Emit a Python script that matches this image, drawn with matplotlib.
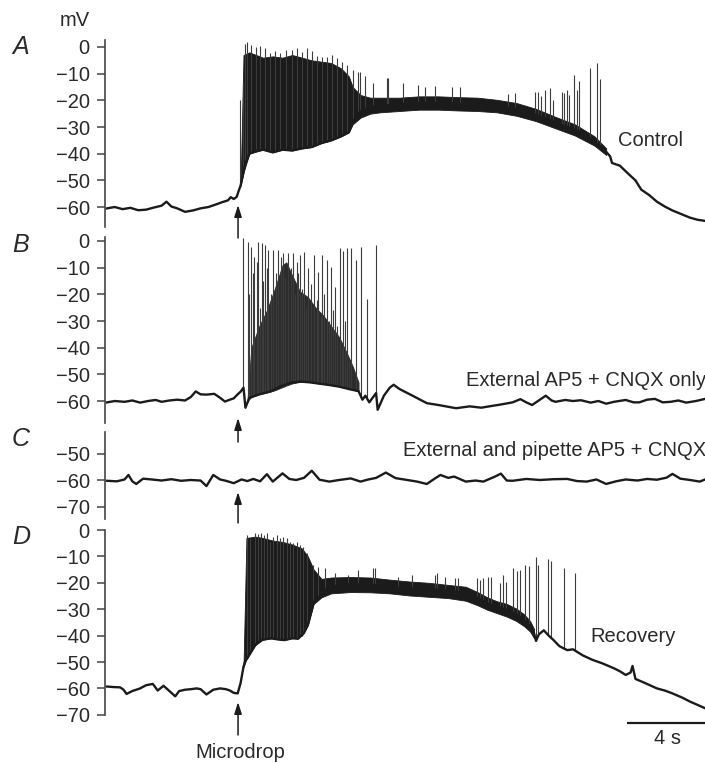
import numpy as np
import matplotlib.pyplot as plt

plt.rcParams['font.family'] = ['Liberation Sans', 'DejaVu Sans']

# ---- data (time in s, membrane potential in mV) ----
t_drop = 6.72

# A  Control
a_t = [0, 0.4, 0.8, 1.2, 1.6, 2.0, 2.4, 2.8, 3.05, 3.3, 3.6, 4.0, 4.4, 4.8, 5.2, 5.6, 5.9, 6.2, 6.35, 6.5,
       6.65, 6.75, 6.85, 7.0, 7.1, 7.3, 7.6, 8.0, 8.5, 9.0, 9.5, 10.0, 10.5, 11.0, 11.5, 12.0, 12.4, 12.6,
       13.0, 13.5, 14.0, 15.0, 16.0, 17.0, 18.0, 19.0, 19.6, 20.2, 20.7, 21.2, 21.7, 22.2, 22.7, 23.2,
       23.8, 24.3, 24.8, 25.3, 25.6, 25.8, 25.9, 26.3, 26.8, 27.1, 27.4, 27.8, 28.2, 28.6, 29.0, 29.5,
       29.9, 30.3, 30.67]
a_v = [-60.5, -60.0, -60.8, -60.3, -61.2, -61.0, -60.2, -59.5, -58.0, -59.8, -60.5, -61.8, -61.3, -60.5,
       -60.0, -59.0, -58.2, -57.5, -56.3, -57.0, -56.2, -54.0, -52.0, -47.0, -43.5, -40.0, -39.0, -38.5,
       -39.5, -38.5, -38.8, -38.0, -37.5, -36.0, -35.0, -33.5, -32.0, -28.0, -24.0, -22.5, -22.0, -21.5,
       -21.0, -21.0, -21.3, -21.5, -21.7, -22.3, -22.8, -23.6, -24.6, -26.0, -27.4, -29.0, -30.5, -32.0,
       -34.5, -37.3, -39.3, -41.0, -43.5, -44.5, -48.0, -50.0, -53.5, -55.5, -58.0, -59.8, -61.3, -62.8,
       -64.0, -64.8, -65.2]
a_band_t = [6.85, 7.0, 7.3, 8.0, 8.5, 9.0, 9.5, 10.0, 10.5, 11.0, 11.5, 12.0, 12.4, 12.6, 13.0, 13.5,
            14.0, 15.0, 16.0, 17.0, 18.0, 19.0, 20.0, 21.0, 22.0, 23.0, 24.0, 25.0, 25.6]
a_band_lo = [-52, -47, -40, -38.5, -39.5, -38.5, -38.8, -38, -37.5, -36, -35, -33.5, -32, -29, -26.5, -25,
             -24.5, -24, -23.5, -23.5, -23.8, -24, -24.5, -25.8, -27.8, -30.5, -33.2, -37, -40.5]
a_band_hi = [-52, -3, -2, -4, -3.5, -4, -3, -4, -5, -5.5, -6, -8, -11, -15, -18, -19, -19, -19, -18.5,
             -18.5, -18.8, -19, -19.8, -21, -23.2, -26.2, -29, -33.5, -38]
a_spk_t = [6.82, 6.99, 7.08, 7.19, 7.4, 7.65, 7.85, 8.1, 8.36, 8.6, 8.87, 9.2, 9.47, 9.73, 9.98, 10.24,
           10.5, 10.75, 11.01, 11.27, 11.52, 11.78, 12.03, 12.29, 12.6, 12.87, 12.97, 13.23, 13.64, 14.34,
           14.41, 15.2, 15.95, 16.3, 16.82, 17.69, 18.1, 20.56, 20.92, 21.95, 22.09, 22.24, 22.45, 22.73,
           22.89, 23.35, 23.44, 23.59, 23.71, 23.96, 24.09, 24.22, 24.77, 25.11, 25.28]
a_spk_v = [-19.8, -13, 1.0, 2.0, 0.7, 0.1, 0.5, -0.5, -2.3, -1.5, -2.3, -1.0, -1.0, -0.5, -1.8, -0.5,
           -1.5, -3.2, -3.6, -3.6, -3.0, -4.2, -5.5, -6.7, -8.6, -9.2, -9.4, -11, -13.5, -11.7, -11.6,
           -13.4, -14.2, -15, -14.6, -15, -15, -17.6, -17.1, -16.8, -17, -18.5, -16, -15.5, -19.8, -16.7,
           -17.4, -16, -18, -10.5, -16, -12.7, -8, -6.1, -12]

# B  External AP5 + CNQX only
b_t = [0, 0.4, 0.9, 1.3, 1.7, 2.1, 2.5, 2.8, 3.2, 3.6, 4.0, 4.3, 4.55, 4.8, 5.1, 5.5, 5.8, 6.05, 6.3,
       6.5, 6.7, 6.85, 7.0, 7.1, 7.3, 7.8, 8.4, 8.9, 9.4, 9.9, 10.4, 10.9, 11.4, 11.9, 12.4, 12.9, 13.1,
       13.25, 13.45, 13.65, 13.8, 13.88, 14.2, 14.5, 14.7, 15.0, 15.4, 15.8, 16.4, 17.0, 17.9, 18.6,
       19.2, 19.6, 20.2, 20.8, 21.2, 21.5, 21.8, 22.2, 22.5, 22.8, 23.0, 23.5, 23.9, 24.3, 24.8, 25.2,
       25.6, 26.0, 26.6, 27.0, 27.3, 27.7, 28.1, 28.5, 28.9, 29.3, 29.7, 30.2, 30.67]
b_v = [-60.5, -60.0, -60.3, -59.8, -60.6, -60.0, -59.6, -60.3, -59.8, -59.5, -59.8, -58.5, -56.4, -57.5,
       -57.6, -57.3, -58.8, -60.2, -59.5, -59.0, -57.5, -56.5, -55.0, -62.5, -58.8, -57.5, -56.4, -54.5,
       -53.2, -52.7, -53.0, -53.5, -54.0, -54.6, -55.5, -56.3, -59.5, -58.0, -60.5, -58.5, -57.0, -63.3,
       -58.0, -55.0, -53.9, -55.5, -57.0, -58.5, -60.8, -61.5, -62.7, -62.0, -62.5, -62.0, -61.3, -60.5,
       -59.3, -60.5, -61.5, -59.5, -58.0, -59.8, -60.3, -59.6, -60.0, -59.7, -60.6, -60.0, -61.0, -60.3,
       -59.6, -60.5, -60.5, -59.5, -59.2, -60.5, -60.3, -59.8, -60.6, -60.0, -59.2]
b_band_t = [7.2, 7.4, 7.8, 8.2, 8.6, 9.0, 9.2, 9.5, 9.9, 10.3, 10.7, 11.1, 11.5, 11.9, 12.3, 12.6, 12.9]
b_band_lo = [-60, -58.5, -57.5, -56.8, -56, -54.8, -54.2, -53.4, -52.8, -52.8, -53.2, -53.6, -54, -54.5,
             -55.2, -55.8, -56.3]
b_band_hi = [-60, -40, -32, -26, -18, -9, -8, -13, -19, -21, -25, -28, -32, -36, -42, -47, -53]
b_spk_t = [6.99, 7.22, 7.38, 7.55, 7.76, 7.93, 8.10, 8.27, 8.53, 8.78, 9.04, 9.30, 9.55, 9.73, 9.90,
           10.12, 10.32, 10.63, 10.84, 11.04, 11.27, 11.49, 11.69, 11.95, 12.12, 12.29, 12.51, 12.75,
           13.01, 13.35, 13.79,
           7.3, 7.5, 7.67, 7.85, 8.0, 8.2, 8.4, 8.65, 8.9, 9.15, 9.42, 9.62, 9.8, 10.02, 10.22, 10.45,
           10.75, 10.95, 11.15, 11.38, 11.6, 11.82, 12.03, 12.2, 12.4]
b_spk_v = [1.0, -0.2, -2.1, -5.9, -0.5, -0.9, -1.5, -3.4, -3.4, -3.4, -4.6, -4.6, -4.6, -7.9, -5.4,
           -4.1, -10.3, -5.4, -11.5, -5.4, -7.3, -9.8, -17.2, -2.6, -3.9, -2.6, -2.6, -7.3,
           -2.1, -21.7, -1.5,
           -20, -12, -8, -25, -15, -10, -20, -12, -6, -14, -10, -20, -12, -18, -25, -16,
           -22, -28, -20, -30, -26, -32, -40, -30, -45]

# C  External and pipette AP5 + CNQX
c_t = [0, 0.5, 0.9, 1.1, 1.3, 1.5, 1.85, 2.3, 2.8, 3.3, 3.8, 4.3, 4.8, 5.1, 5.45, 5.8, 6.1, 6.5, 6.9,
       7.2, 7.5, 7.85, 8.2, 8.5, 9.0, 9.35, 9.7, 10.1, 10.5, 10.9, 11.4, 11.9, 12.5, 13.0, 13.4, 13.8,
       14.3, 14.8, 15.4, 15.9, 16.4, 16.8, 17.1, 17.5, 17.8, 18.4, 18.9, 19.3, 19.9, 20.2, 20.5, 20.8,
       21.5, 22.2, 22.9, 23.6, 24.1, 24.6, 25.1, 25.6, 26.1, 26.6, 27.2, 27.7, 28.2, 28.7, 29.0, 29.4,
       29.9, 30.4, 30.67]
c_v = [-60.3, -60.5, -59.8, -58.1, -60.5, -61.5, -59.5, -59.8, -60.2, -59.7, -60.3, -60.0, -60.2, -62.3,
       -58.1, -59.8, -60.3, -61.2, -59.8, -60.4, -59.6, -60.5, -57.8, -60.6, -57.5, -59.6, -60.0, -59.2,
       -56.5, -59.9, -60.6, -60.0, -59.4, -60.6, -59.8, -59.2, -57.2, -59.3, -60.0, -60.6, -61.5, -59.5,
       -58.1, -59.2, -58.7, -60.6, -60.2, -60.6, -58.7, -57.6, -60.2, -60.3, -59.6, -60.0, -59.7, -59.6,
       -60.4, -60.6, -59.8, -61.5, -60.5, -59.8, -60.2, -59.6, -59.9, -59.1, -57.7, -59.5, -60.0, -60.6,
       -59.8]

# D  Recovery
d_t = [0, 0.35, 0.67, 0.85, 1.0, 1.3, 1.7, 2.0, 2.35, 2.6, 2.9, 3.2, 3.5, 3.7, 4.0, 4.3, 4.6, 4.8, 5.1,
       5.45, 5.8, 6.1, 6.3, 6.5, 6.7, 6.85, 7.0, 7.1, 7.2, 7.6, 7.9, 8.4, 8.8, 9.1, 9.5, 9.8, 10.1, 10.3,
       10.6, 11.0, 11.3, 11.95, 12.5, 13.0, 13.7, 14.5, 15.4, 16.2, 17.1, 17.8, 18.4, 19.0, 19.5, 20.0,
       20.5, 21.0, 21.4, 21.7, 21.9, 22.0, 22.15, 22.4, 22.65, 22.9, 23.2, 23.6, 23.9, 24.4, 24.9, 25.4,
       26.0, 26.3, 26.6, 26.85, 26.95, 27.1, 27.6, 28.2, 28.6, 29.0, 29.5, 29.9, 30.3, 30.67]
d_v = [-59.3, -59.5, -59.6, -60.5, -62.1, -61.0, -60.0, -58.8, -58.3, -60.8, -59.0, -61.0, -63.0, -61.0,
       -60.5, -60.3, -60.0, -60.3, -62.3, -60.5, -60.0, -60.3, -60.8, -61.7, -61.9, -58.0, -51.8, -49.3,
       -48.5, -43.6, -41.7, -41.0, -41.5, -41.7, -41.0, -41.2, -39.0, -36.0, -27.2, -24.6, -22.0, -20.8,
       -20.5, -20.6, -20.8, -21.5, -22.1, -22.4, -22.7, -23.3, -24.0, -25.8, -27.8, -29.0, -30.3, -32.0,
       -34.1, -36.5, -39.1, -42.0, -39.5, -38.0, -40.0, -41.7, -44.0, -45.5, -45.2, -47.5, -49.2, -50.5,
       -52.4, -53.5, -54.9, -54.0, -51.5, -56.4, -58.0, -60.0, -60.8, -61.9, -63.5, -65.0, -66.3, -67.5]
d_band_t = [7.0, 7.15, 7.6, 8.0, 8.5, 9.0, 9.5, 10.0, 10.3, 10.6, 11.0, 11.5, 12.5, 13.5, 14.5, 15.5,
            16.5, 17.5, 18.4, 19.0, 19.5, 20.0, 20.5, 21.0, 21.4, 21.7, 21.9]
d_band_lo = [-51.8, -49, -43.6, -41.5, -41, -41.5, -41, -40, -36, -28, -25.5, -24, -23.5, -23.6, -24,
             -24.8, -25.3, -25.8, -26.8, -28.5, -30.2, -31.5, -32.8, -34.5, -36.5, -38.5, -41]
d_band_hi = [-51.8, -3, -2.5, -3, -4, -4.5, -5.5, -7, -10, -15, -18.5, -18, -17.8, -18, -18.8, -19.5,
             -20, -20.8, -21.5, -23.5, -25.5, -27, -28, -29.8, -32, -34.5, -37.5]
d_spk_t = [7.16, 7.33, 7.59, 7.76, 7.9, 8.07, 8.19, 8.36, 8.53, 8.7, 8.87, 9.04, 9.21, 9.38, 9.55, 9.73,
           9.9, 10.07, 10.24, 10.58, 10.84, 11.18, 11.69, 12.37, 12.89, 13.66, 13.74, 14.94, 15.62,
           16.82, 16.9, 17.33, 17.85, 18.0, 18.96, 19.13, 19.3, 19.55, 19.68, 20.15, 20.32, 20.46, 20.84,
           21.01, 21.18, 21.44, 21.66, 22.0, 22.12, 22.6, 22.75, 23.45, 24.02]
d_spk_v = [-1.9, -3.2, -1.3, -1.7, -1.0, -1.9, -1.3, -4.4, -2.5, -1.9, -3.2, -2.5, -3.2, -4.4, -5.1, -4.4,
           -5.7, -6.3, -8.8, -13.3, -13.9, -14.5, -16.4, -17.0, -15.2, -14.5, -14.5, -17.7, -17.0,
           -17.0, -16.4, -17.7, -18.3, -18.3, -18.3, -19.0, -18.3, -17.7, -17.7, -20.0, -17.0, -19.6,
           -14.5, -15.7, -15.2, -13.3, -13.6, -10.1, -13.3, -11.1, -11.6, -14.5, -16.4]

# ---- figure ----
W, H = 705, 763
fig = plt.figure(figsize=(W / 100, H / 100), dpi=100)
ink = '#1b1b1b'
grey = '#3c3c3c'
txt = '#2a2a2a'
fs = 14.5
t0_px, s_px, spine_px = 107, 19.5, 105


def fpos(x, y):
    return x / W, 1 - y / H


def make_panel(v0, y0, pxmv, ytop, ybot, bounds, ticks):
    ax = fig.add_axes([spine_px / W, 1 - ybot / H, (W - spine_px) / W, (ybot - ytop) / H])
    ax.set_xlim((spine_px - t0_px) / s_px, (W - t0_px) / s_px)
    ax.set_ylim(v0 - (ybot - y0) / pxmv, v0 + (y0 - ytop) / pxmv)
    ax.patch.set_alpha(0)
    for s in ['top', 'right', 'bottom']:
        ax.spines[s].set_visible(False)
    ax.spines['left'].set_bounds(*bounds)
    ax.spines['left'].set_linewidth(1.2)
    ax.spines['left'].set_color('#444444')
    ax.set_xticks([])
    ax.set_yticks(ticks)
    ax.tick_params(axis='y', direction='out', length=6, width=1.1, pad=5,
                   labelsize=fs, labelcolor=txt, color='#444444')
    ax.px = lambda y: v0 - (y - y0) / pxmv
    return ax


def draw(ax, t, v, bt=None, lo=None, hi=None, st=None, sv=None, band_col=ink):
    if bt is not None:
        ax.fill_between(bt, lo, hi, color=band_col, lw=0.6, clip_on=False)
    if st is not None:
        foot = np.interp(st, t, v)
        ax.vlines(st, foot, sv, color=grey, lw=0.8, clip_on=False)
    ax.plot(t, v, color=ink, lw=1.7, clip_on=False, solid_joinstyle='round')


def arrow(ax, y_tip, y_tail):
    ax.annotate('', xy=(t_drop, ax.px(y_tip)), xytext=(t_drop, ax.px(y_tail)),
                arrowprops=dict(arrowstyle='-|>,head_length=0.7,head_width=0.22', color=ink,
                                lw=1.1, shrinkA=0, shrinkB=0), annotation_clip=False)


axA = make_panel(0, 47, 2.667, 35, 240, (-67.5, 2.7), [0, -10, -20, -30, -40, -50, -60])
axB = make_panel(0, 241, 2.667, 232, 428, (-68.2, 1.5), [0, -10, -20, -30, -40, -50, -60])
axC = make_panel(-60, 480, 2.65, 428, 525, (-74.7, -41.9), [-50, -60, -70])
axD = make_panel(0, 530, 2.64, 520, 745, (-70, 0), [0, -10, -20, -30, -40, -50, -60, -70])

draw(axA, a_t, a_v, a_band_t, a_band_lo, a_band_hi, a_spk_t, a_spk_v)
draw(axB, b_t, b_v, b_band_t, b_band_lo, b_band_hi, b_spk_t, b_spk_v, band_col='#2c2c2c')
draw(axC, c_t, c_v)
draw(axD, d_t, d_v, d_band_t, d_band_lo, d_band_hi, d_spk_t, d_spk_v)

arrow(axA, 205, 238)
arrow(axB, 418, 442)
arrow(axC, 492, 523)
arrow(axD, 702, 735)

# scale bar 4 s
axD.plot([(W - t0_px) / s_px - 4, (W - t0_px) / s_px], [axD.px(723)] * 2, color=ink, lw=1.6,
         clip_on=False, solid_capstyle='butt')
fig.text(*fpos(668, 739), '4 s', fontsize=fs, color=txt, ha='center', va='center')
fig.text(*fpos(240, 753), 'Microdrop', fontsize=fs, color=txt, ha='center', va='center')

fig.text(*fpos(75, 20), 'mV', fontsize=fs, color=txt, ha='center', va='center')
for lab, y in zip(['A', 'B', 'C', 'D'], [47, 245, 439, 537]):
    fig.text(*fpos(12, y), lab, fontsize=18, style='italic', color=txt, ha='left', va='center')

fig.text(*fpos(618, 141), 'Control', fontsize=fs, color=txt, ha='left', va='center')
fig.text(*fpos(466, 380), 'External AP5 + CNQX only', fontsize=fs, color=txt, ha='left', va='center')
fig.text(*fpos(403, 450), 'External and pipette AP5 + CNQX', fontsize=fs, color=txt,
         ha='left', va='center')
fig.text(*fpos(590, 636), 'Recovery', fontsize=fs, color=txt, ha='left', va='center')

fig.savefig('out.png', dpi=100)
